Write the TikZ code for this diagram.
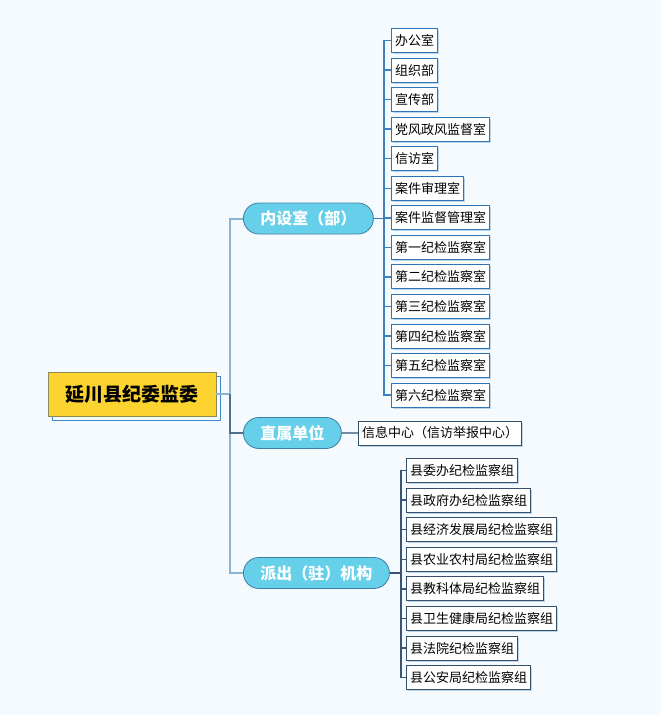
\documentclass[tikz,border=0pt]{standalone}
\usepackage{fontspec}
\newfontfamily\cjk{Noto Sans CJK SC}
\usetikzlibrary{shadows,calc}
\definecolor{bg}{HTML}{F5FAFE}
\definecolor{rootfill}{HTML}{FDD32F}
\definecolor{rootdraw}{HTML}{8C8A55}
\definecolor{rootsh}{HTML}{3E8ACC}
\definecolor{pillfill}{HTML}{66CFE9}
\definecolor{pilldraw}{HTML}{3F7FA6}
\definecolor{leafblue}{HTML}{2E75B6}
\definecolor{leafdark}{HTML}{34506B}
\definecolor{leafsh}{HTML}{BCD4E8}
\definecolor{trunk}{HTML}{8DB3D3}
\definecolor{trunkdark}{HTML}{4F6F8A}
\definecolor{lineblue}{HTML}{3F7FBF}
\definecolor{linedark}{HTML}{3A5573}
\begin{document}
\begin{tikzpicture}[x=1pt,y=-1pt,
  rootbox/.style={draw=rootdraw,line width=0.8pt,fill=rootfill,minimum width=168pt,minimum height=44pt,
    inner sep=0pt,font=\cjk\fontsize{19}{22}\selectfont\bfseries,
    general shadow={shadow xshift=4pt,shadow yshift=-4pt,fill=bg,draw=rootsh,line width=0.8pt}},
  pill/.style={draw=pilldraw,line width=0.8pt,fill=pillfill,rounded corners=15.5pt,minimum height=31pt,
    inner xsep=17pt,inner ysep=0pt,text=white,font=\cjk\fontsize{16}{19}\selectfont\bfseries,anchor=west},
  leafbox/.style={draw=leafblue,line width=1pt,fill=white,minimum height=24pt,inner xsep=3.5pt,inner ysep=0pt,
    anchor=west,font=\cjk\fontsize{13}{15}\selectfont,
    general shadow={shadow xshift=1.5pt,shadow yshift=-1.5pt,fill=leafsh}},
  leafd/.style={leafbox,draw=leafdark},
  trunkline/.style={draw=trunk,line width=2pt},
  blueline/.style={draw=lineblue,line width=1.5pt},
  darkline/.style={draw=linedark,line width=1.5pt}]
\fill[bg] (0,0) rectangle (661,715);
\useasboundingbox (0,0) rectangle (661,715);

\node[rootbox] (root) at (132,394) {延川县纪委监委};

\node[pill] (p1) at (243,218.5) {内设室（部）};
\node[pill] (p2) at (243,433) {直属单位};
\node[pill] (p3) at (243,573) {派出（驻）机构};

% trunk
\draw[trunkline] (root.east) -- ++(14,0) |- (p1.west);
\draw[trunkline] (root.east) -- ++(14,0) |- (p3.west);
\draw[draw=trunkdark,line width=2pt] (root.east) ++(14,0) |- (p2.west);

% group 1
\foreach \t [count=\i from 0] in {办公室,组织部,宣传部,党风政风监督室,信访室,案件审理室,案件监督管理室,第一纪检监察室,第二纪检监察室,第三纪检监察室,第四纪检监察室,第五纪检监察室,第六纪检监察室}{
  \node[leafbox] (a\i) at (391,40.5+29.55*\i) {\t};
  \draw[blueline] (p1.east) -- ++(10,0) |- (a\i.west);
}

% group 2
\node[leafd] (b0) at (358,433) {信息中心（信访举报中心）};
\draw[draw=trunkdark!80,line width=2pt] (p2.east) -- (b0.west);

% group 3
\foreach \t [count=\i from 0] in {县委办纪检监察组,县政府办纪检监察组,县经济发展局纪检监察组,县农业农村局纪检监察组,县教科体局纪检监察组,县卫生健康局纪检监察组,县法院纪检监察组,县公安局纪检监察组}{
  \node[leafd] (c\i) at (406,470.5+29.6*\i) {\t};
  \draw[darkline] (p3.east) -- ++(11,0) |- (c\i.west);
}
\end{tikzpicture}
\end{document}
